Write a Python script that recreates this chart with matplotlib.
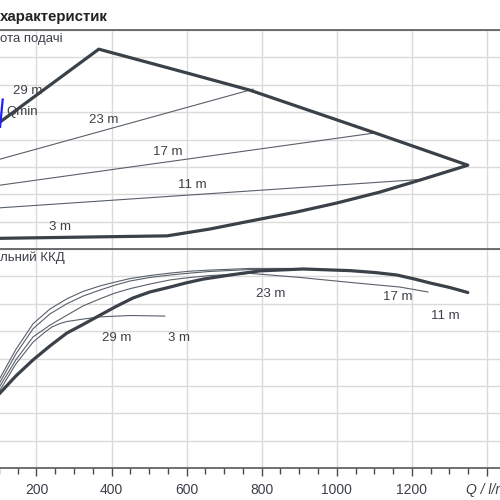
import matplotlib
matplotlib.use("Agg")
import matplotlib.pyplot as plt
from matplotlib.ticker import MultipleLocator, FixedLocator

plt.rcParams['font.family'] = ['Liberation Sans', 'DejaVu Sans']

# ---------------- data ----------------
# Head panel: outer envelope (Q in l/min, H in m)
env_q = [76, 103, 366, 609, 769, 1102, 1349, 1288, 1222, 1115, 1000, 889, 769, 662, 548, 103, 76]
env_h = [21.9, 23.2, 36.5, 32.0, 29.0, 21.2, 15.3, 14.0, 12.6, 10.4, 8.4, 6.7, 5.1, 3.65, 2.4, 1.95, 1.9]

# thin head lines
h23_q = [76, 777]
h23_h = [15.9, 29.2]
h17_q = [76, 1102]
h17_h = [11.4, 21.2]
h11_q = [76, 1222]
h11_h = [7.4, 12.7]

qmin_q = [103, 110]
qmin_h = [22.3, 27.3]

# Efficiency panel (eta in %)
eff11_q = [76, 103, 145, 191, 236, 281, 321, 361, 409, 457, 502, 556, 598, 644, 716, 795,
           910, 1035, 1102, 1160, 1208, 1248, 1302, 1349]
eff11_e = [23.4, 27.4, 33.6, 39.5, 44.6, 49.3, 52.2, 55.2, 58.8, 62.1, 64.3, 66.1, 67.6, 69.0,
           70.5, 72.0, 72.7, 72.1, 71.4, 70.5, 69.0, 67.6, 65.9, 64.1]

eff3_q = [76, 103, 145, 191, 236, 281, 324, 369, 409, 449, 502, 556, 609, 662, 769, 875]
eff3_e = [25.6, 32.9, 43.3, 52.7, 58.1, 61.8, 64.5, 66.5, 67.9, 69.2, 70.3, 71.2, 71.9, 72.3, 72.9, 72.9]

eff23_q = [76, 103, 145, 191, 236, 281, 324, 369, 409, 449, 502, 556, 609, 662, 769, 875]
eff23_e = [23.7, 31.4, 41.6, 50.9, 56.3, 60.0, 62.8, 65.0, 66.8, 68.3, 69.6, 70.5, 71.2, 71.8, 72.5, 72.8]

eff17_q = [76, 103, 145, 191, 236, 281, 324, 369, 409, 449, 502, 556, 609, 662, 769, 902, 1035, 1168, 1243]
eff17_e = [22.3, 30.0, 39.5, 47.9, 52.2, 55.8, 59.2, 61.8, 63.9, 65.5, 67.2, 68.7, 69.6, 70.3, 71.1,
           69.6, 67.8, 66.1, 64.3]

eff29_q = [76, 103, 145, 191, 223, 241, 263, 281, 324, 369, 449, 542]
eff29_e = [20.8, 28.5, 38.0, 46.0, 49.7, 51.5, 52.8, 53.5, 54.4, 55.2, 55.7, 55.5]

x_ticks = [0, 200, 400, 600, 800, 1000, 1200, 1400]
x_tick_labels = ['', '200', '400', '600', '800', '1000', '1200', '']

head_labels = [("29 m", 137, 28.9), ("Qmin", 119, 25.0), ("23 m", 340, 23.6),
               ("17 m", 510, 17.7), ("11 m", 577, 11.7), ("3 m", 233, 4.0)]
eff_labels = [("29 m", 374, 47.5), ("3 m", 550, 47.5), ("23 m", 785, 63.6),
              ("17 m", 1122, 62.4), ("11 m", 1250, 55.5)]

# ---------------- styling ----------------
THICK = '#3a4149'
THIN = '#59606a'
GRID = '#dadada'
SPINE = '#4a4a4a'
TXT = '#3c4148'

fig = plt.figure(figsize=(5, 5), dpi=100)
left = -38.6 / 500
width = 1440 * 0.3754 / 500
ax1 = fig.add_axes([left, 0.502, width, 0.438])
ax2 = fig.add_axes([left, 0.064, width, 0.438])

for ax in (ax1, ax2):
    ax.set_xlim(0, 1440)
    ax.xaxis.set_major_locator(FixedLocator(x_ticks))
    ax.grid(True, which='major', color=GRID, lw=1.0)
    ax.set_axisbelow(True)
    for s in ('left', 'right'):
        ax.spines[s].set_visible(False)
    ax.spines['top'].set_color(SPINE)
    ax.spines['top'].set_linewidth(1.1)
    ax.tick_params(left=False, labelleft=False)

ax1.set_ylim(0, 40)
ax1.yaxis.set_major_locator(MultipleLocator(5))
ax1.spines['bottom'].set_visible(False)
ax1.tick_params(bottom=False, labelbottom=False)

ax2.set_ylim(0, 80)
ax2.yaxis.set_major_locator(MultipleLocator(10))
ax2.spines['bottom'].set_color(SPINE)
ax2.spines['bottom'].set_linewidth(1.1)
ax2.xaxis.set_minor_locator(MultipleLocator(50))
ax2.set_xticklabels(x_tick_labels)
ax2.tick_params(axis='x', which='major', direction='out', length=6, width=1,
                color=SPINE, labelsize=10, labelcolor=TXT, pad=4.5)
ax2.tick_params(axis='x', which='minor', direction='out', length=4.5, width=1,
                color=SPINE)

# head panel
ax1.plot(h23_q, h23_h, color=THIN, lw=0.8)
ax1.plot(h17_q, h17_h, color=THIN, lw=0.8)
ax1.plot(h11_q, h11_h, color=THIN, lw=0.8)
ax1.plot(env_q, env_h, color=THICK, lw=2.3, solid_joinstyle='round')
ax1.plot(qmin_q, qmin_h, color='#1f1fff', lw=1.6)
for t, q, h in head_labels:
    ax1.text(q, h, t, fontsize=9.5, color=TXT, ha='left', va='center')

# efficiency panel
for q, e in ((eff3_q, eff3_e), (eff23_q, eff23_e), (eff17_q, eff17_e), (eff29_q, eff29_e)):
    ax2.plot(q, e, color=THIN, lw=0.8, solid_joinstyle='round')
ax2.plot(eff11_q, eff11_e, color=THICK, lw=2.3, solid_capstyle='round', solid_joinstyle='round')
for t, q, e in eff_labels:
    ax2.text(q, e, t, fontsize=9.5, color=TXT, ha='left', va='center')

# texts
fig.text(0.0, 1 - 17 / 500, "характеристик", fontsize=10.8, fontweight='bold',
         color='#222222', ha='left', va='center')
fig.text(0.0, 1 - 39 / 500, "ота подачі", fontsize=9.5, color=TXT, ha='left', va='center')
fig.text(0.0, 1 - 258 / 500, "льний ККД", fontsize=9.5, color=TXT, ha='left', va='center')
fig.text(466 / 500, 1 - 490 / 500, "Q / l/min", fontsize=10, style='italic',
         color=TXT, ha='left', va='center')

fig.savefig("out.png", dpi=100)
